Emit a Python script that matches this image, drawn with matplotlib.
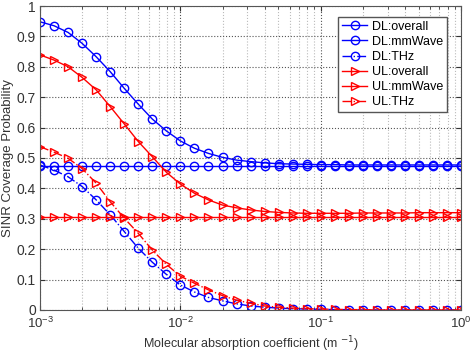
import numpy as np
import matplotlib
matplotlib.use("Agg")
import matplotlib.pyplot as plt

plt.rcParams['font.family'] = ['Liberation Sans', 'DejaVu Sans']

# absorption coefficient, 10 points per decade
x = 10 ** np.linspace(-3, 0, 31)

dl_overall = [0.948, 0.935, 0.913, 0.877, 0.833, 0.784, 0.729, 0.677, 0.628, 0.589, 0.556,
              0.532, 0.515, 0.502, 0.493, 0.488, 0.484, 0.481, 0.480, 0.479, 0.478,
              0.478, 0.477, 0.477, 0.477, 0.477, 0.477, 0.477, 0.477, 0.477, 0.477]
dl_mmwave = [0.473] * 31
dl_thz = [0.477, 0.460, 0.438, 0.406, 0.362, 0.313, 0.258, 0.203, 0.157, 0.117, 0.082,
          0.059, 0.041, 0.030, 0.020, 0.013, 0.009, 0.006, 0.004, 0.003, 0.002,
          0.001, 0.001, 0.0, 0.0, 0.0, 0.0, 0.0, 0.0, 0.0, 0.0]

ul_overall = [0.839, 0.822, 0.800, 0.765, 0.724, 0.669, 0.612, 0.554, 0.504, 0.453, 0.414,
              0.384, 0.362, 0.345, 0.336, 0.329, 0.324, 0.321, 0.319, 0.318, 0.318,
              0.318, 0.318, 0.319, 0.319, 0.319, 0.319, 0.32, 0.32, 0.32, 0.32]
ul_mmwave = [0.306] * 31
ul_thz = [0.537, 0.519, 0.499, 0.465, 0.417, 0.356, 0.302, 0.252, 0.197, 0.150, 0.111,
          0.088, 0.066, 0.047, 0.032, 0.022, 0.013, 0.009, 0.006, 0.004, 0.003,
          0.002, 0.001, 0.001, 0.0, 0.0, 0.0, 0.0, 0.0, 0.0, 0.0]

fig = plt.figure(figsize=(4.71, 3.53), dpi=100)
ax = fig.add_axes([0.085, 0.122, 0.894, 0.861])

kw = dict(markerfacecolor='none', markersize=6, linewidth=1, markeredgewidth=1)
ax.plot(x, dl_overall, '-', color='b', marker='o', label='DL:overall', **kw)
ax.plot(x, dl_mmwave, '-', color='b', marker='o', label='DL:mmWave', **kw)
ax.plot(x, dl_thz, '-.', color='b', marker='o', label='DL:THz', **kw)
ax.plot(x, ul_overall, '-', color='r', marker='>', label='UL:overall', **kw)
ax.plot(x, ul_mmwave, '-', color='r', marker='>', label='UL:mmWave', **kw)
ax.plot(x, ul_thz, '-.', color='r', marker='>', label='UL:THz', **kw)

ax.set_xscale('log')
ax.set_xlim(1e-3, 1)
ax.set_ylim(0, 1)
ax.set_yticks(np.arange(0, 1.01, 0.1))
ax.set_yticklabels(['0', '0.1', '0.2', '0.3', '0.4', '0.5', '0.6', '0.7', '0.8', '0.9', '1'])

ax.grid(True, which='major', linestyle=':', color='#555555', linewidth=0.8)
ax.grid(True, which='minor', linestyle=':', color='#bbbbbb', linewidth=0.8)
ax.tick_params(which='both', direction='in', top=True, right=True, labelsize=10,
               colors='#333333')
ax.tick_params(axis='x', pad=4.5, labelsize=9.5)
ax.tick_params(axis='y', pad=3)
for s in ax.spines.values():
    s.set_color('#555555')

ax.set_xlabel('Molecular absorption coefficient (m $^{-1}$)', fontsize=9,
              color='#333333')
ax.xaxis.set_label_coords(0.5, -0.081)
ax.set_ylabel('SINR Coverage Probability', fontsize=9.5, color='#333333', labelpad=2)

leg = ax.legend(loc='upper right', fontsize=9, fancybox=False, framealpha=1,
                edgecolor='#555555', borderpad=0.3, labelspacing=0.25,
                handlelength=2.0, handletextpad=0.4, borderaxespad=0,
                bbox_to_anchor=(0.967, 0.964))

fig.savefig('out.png', dpi=100)
